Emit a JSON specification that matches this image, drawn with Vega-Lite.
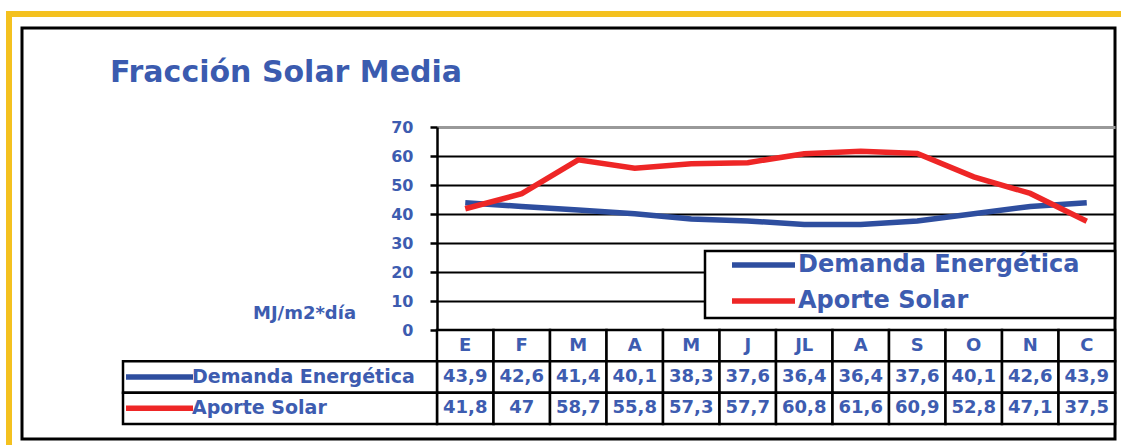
{
  "$schema": "https://vega.github.io/schema/vega-lite/v6.json",
  "width": 1093,
  "height": 411,
  "autosize": {"type": "none"},
  "padding": {"left": 22, "top": 28, "right": 6, "bottom": 6},
  "background": "white",
  "config": {
    "view": {"stroke": "#000000", "strokeWidth": 3},
    "font": "DejaVu Sans",
    "locale": {"number": {"decimal": ",", "thousands": ".", "grouping": [3], "currency": ["", " €"]}}
  },
  "title": {
    "text": "Fracción Solar Media",
    "anchor": "start",
    "frame": "group",
    "orient": "top",
    "baseline": "middle",
    "offset": 0,
    "dx": 88,
    "dy": 92,
    "font": "DejaVu Sans",
    "fontSize": 30,
    "fontWeight": "bold",
    "color": "#3B5BAF"
  },
  "data": {
    "values": [
      {"mes": "Ene", "abrev": "E", "serie": "Demanda Energética", "valor": 43.9},
      {"mes": "Feb", "abrev": "F", "serie": "Demanda Energética", "valor": 42.6},
      {"mes": "Mar", "abrev": "M", "serie": "Demanda Energética", "valor": 41.4},
      {"mes": "Abr", "abrev": "A", "serie": "Demanda Energética", "valor": 40.1},
      {"mes": "May", "abrev": "M", "serie": "Demanda Energética", "valor": 38.3},
      {"mes": "Jun", "abrev": "J", "serie": "Demanda Energética", "valor": 37.6},
      {"mes": "Jul", "abrev": "JL", "serie": "Demanda Energética", "valor": 36.4},
      {"mes": "Ago", "abrev": "A", "serie": "Demanda Energética", "valor": 36.4},
      {"mes": "Sep", "abrev": "S", "serie": "Demanda Energética", "valor": 37.6},
      {"mes": "Oct", "abrev": "O", "serie": "Demanda Energética", "valor": 40.1},
      {"mes": "Nov", "abrev": "N", "serie": "Demanda Energética", "valor": 42.6},
      {"mes": "Dic", "abrev": "C", "serie": "Demanda Energética", "valor": 43.9},
      {"mes": "Ene", "abrev": "E", "serie": "Aporte Solar", "valor": 41.8},
      {"mes": "Feb", "abrev": "F", "serie": "Aporte Solar", "valor": 47},
      {"mes": "Mar", "abrev": "M", "serie": "Aporte Solar", "valor": 58.7},
      {"mes": "Abr", "abrev": "A", "serie": "Aporte Solar", "valor": 55.8},
      {"mes": "May", "abrev": "M", "serie": "Aporte Solar", "valor": 57.3},
      {"mes": "Jun", "abrev": "J", "serie": "Aporte Solar", "valor": 57.7},
      {"mes": "Jul", "abrev": "JL", "serie": "Aporte Solar", "valor": 60.8},
      {"mes": "Ago", "abrev": "A", "serie": "Aporte Solar", "valor": 61.6},
      {"mes": "Sep", "abrev": "S", "serie": "Aporte Solar", "valor": 60.9},
      {"mes": "Oct", "abrev": "O", "serie": "Aporte Solar", "valor": 52.8},
      {"mes": "Nov", "abrev": "N", "serie": "Aporte Solar", "valor": 47.1},
      {"mes": "Dic", "abrev": "C", "serie": "Aporte Solar", "valor": 37.5}
    ]
  },
  "layer": [
    {
      "transform": [{"filter": "datum.mes === 'Ene' && datum.serie === 'Aporte Solar'"}],
      "mark": {"type": "rect", "fill": "#FFFFFF", "fillOpacity": 0, "stroke": "#F4C11F", "strokeWidth": 6},
      "encoding": {
        "x": {"datum": "marco", "type": "nominal", "scale": {"domain": ["marco"], "range": [-13, 1200], "paddingInner": 0, "paddingOuter": 0}, "axis": null},
        "y": {"datum": "marco", "type": "nominal", "scale": {"domain": ["marco"], "range": [-14, 500], "paddingInner": 0, "paddingOuter": 0}, "axis": null}
      }
    },
    {
      "mark": {"type": "line", "strokeWidth": 5.5},
      "encoding": {
        "x": {
          "field": "mes", "type": "ordinal",
          "scale": {"domain": ["Ene","Feb","Mar","Abr","May","Jun","Jul","Ago","Sep","Oct","Nov","Dic"], "range": [415, 1093], "paddingInner": 0, "paddingOuter": 0},
          "axis": null
        },
        "y": {
          "field": "valor", "type": "quantitative",
          "scale": {"domain": [0, 70], "range": [302, 99], "nice": false, "zero": true},
          "axis": {
            "orient": "left",
            "offset": -415,
            "values": [0, 10, 20, 30, 40, 50, 60, 70],
            "domain": true, "domainColor": "#000000", "domainWidth": 2.5,
            "ticks": true, "tickColor": "#000000", "tickWidth": 2.5, "tickSize": 7,
            "grid": true,
            "gridColor": {"condition": {"test": "datum.value === 70", "value": "#999999"}, "value": "#000000"},
            "gridWidth": {"condition": {"test": "datum.value === 70", "value": 3}, "value": 2},
            "labelFont": "DejaVu Sans", "labelFontSize": 16, "labelFontWeight": "bold", "labelColor": "#3D5CB0", "labelPadding": 17,
            "title": "MJ/m2*día", "titleAngle": 0, "titleX": -133, "titleY": 285,
            "titleAlign": "center", "titleBaseline": "middle",
            "titleFont": "DejaVu Sans", "titleFontSize": 18, "titleFontWeight": "bold", "titleColor": "#3D5CB0"
          }
        },
        "color": {
          "field": "serie", "type": "nominal",
          "scale": {"domain": ["Demanda Energética", "Aporte Solar"], "range": ["#2E4E9F", "#EE2626"]},
          "legend": null
        },
        "order": {"value": null}
      }
    },
    {
      "layer": [
        {
          "layer": [
            {
              "transform": [{"filter": "datum.serie === 'Demanda Energética'"}],
              "mark": {"type": "rect", "fill": "#FFFFFF", "stroke": "#000000", "strokeWidth": 2.5},
              "encoding": {
                "x": {"field": "mes", "type": "ordinal", "scale": {"domain": ["Ene","Feb","Mar","Abr","May","Jun","Jul","Ago","Sep","Oct","Nov","Dic"], "range": [415, 1093], "paddingInner": 0, "paddingOuter": 0}, "axis": null},
                "y": {"datum": "hdr", "type": "nominal", "scale": {"domain": ["hdr", "Demanda Energética", "Aporte Solar"], "range": [302, 396], "paddingInner": 0, "paddingOuter": 0}, "axis": null}
              }
            },
            {
              "transform": [{"filter": "datum.serie === 'Demanda Energética'"}],
              "mark": {"type": "text", "font": "DejaVu Sans", "fontSize": 18, "fontWeight": "bold", "color": "#3D5CB0", "align": "center", "baseline": "middle"},
              "encoding": {
                "x": {"field": "mes", "type": "ordinal", "axis": null},
                "y": {"datum": "hdr", "type": "nominal", "axis": null},
                "text": {"field": "abrev"}
              }
            },
            {
              "mark": {"type": "rect", "fill": "#FFFFFF", "stroke": "#000000", "strokeWidth": 2.5},
              "encoding": {
                "x": {"field": "mes", "type": "ordinal", "axis": null},
                "y": {"field": "serie", "type": "nominal", "axis": null}
              }
            },
            {
              "mark": {"type": "text", "font": "DejaVu Sans", "fontSize": 18, "fontWeight": "bold", "color": "#3D5CB0", "align": "center", "baseline": "middle"},
              "encoding": {
                "x": {"field": "mes", "type": "ordinal", "axis": null},
                "y": {"field": "serie", "type": "nominal", "axis": null},
                "text": {"field": "valor", "type": "quantitative", "format": ".1~f"}
              }
            }
          ]
        },
        {
          "transform": [{"filter": "datum.mes === 'Ene'"}],
          "layer": [
            {
              "mark": {"type": "rect", "fill": "#FFFFFF", "stroke": "#000000", "strokeWidth": 2.5},
              "encoding": {
                "x": {"datum": "lbl", "type": "nominal", "scale": {"domain": ["lbl"], "range": [101, 415], "paddingInner": 0, "paddingOuter": 0}, "axis": null},
                "y": {"field": "serie", "type": "nominal", "axis": null}
              }
            },
            {
              "mark": {"type": "point", "shape": "stroke", "size": 4489, "strokeWidth": 5.5, "filled": false, "opacity": 1, "xOffset": -120.5},
              "encoding": {
                "x": {"datum": "lbl", "type": "nominal", "axis": null},
                "y": {"field": "serie", "type": "nominal", "axis": null},
                "stroke": {"field": "serie", "type": "nominal", "scale": {"domain": ["Demanda Energética", "Aporte Solar"], "range": ["#2E4E9F", "#EE2626"]}, "legend": null}
              }
            },
            {
              "mark": {"type": "text", "font": "DejaVu Sans", "fontSize": 19, "fontWeight": "bold", "color": "#3D5CB0", "align": "left", "baseline": "middle", "dx": -88},
              "encoding": {
                "x": {"datum": "lbl", "type": "nominal", "axis": null},
                "y": {"field": "serie", "type": "nominal", "axis": null},
                "text": {"field": "serie"}
              }
            }
          ]
        }
      ],
      "resolve": {"scale": {"x": "independent"}}
    },
    {
      "transform": [{"filter": "datum.mes === 'Ene'"}],
      "layer": [
        {
          "transform": [{"filter": "datum.serie === 'Demanda Energética'"}],
          "mark": {"type": "rect", "fill": "#FFFFFF", "stroke": "#000000", "strokeWidth": 2.5},
          "encoding": {
            "x": {"datum": "ley", "type": "nominal", "scale": {"domain": ["ley"], "range": [683, 1093], "paddingInner": 0, "paddingOuter": 0}, "axis": null},
            "y": {"datum": "ley", "type": "nominal", "scale": {"domain": ["ley"], "range": [223, 290], "paddingInner": 0, "paddingOuter": 0}, "axis": null}
          }
        },
        {
          "layer": [
            {
              "mark": {"type": "point", "shape": "stroke", "size": 3969, "strokeWidth": 5.5, "filled": false, "opacity": 1, "xOffset": -146.5},
              "encoding": {
                "x": {"datum": "ley", "type": "nominal", "axis": null},
                "y": {"field": "serie", "type": "nominal", "scale": {"domain": ["Demanda Energética", "Aporte Solar"], "range": [219, 291], "paddingInner": 0, "paddingOuter": 0}, "axis": null},
                "stroke": {"field": "serie", "type": "nominal", "scale": {"domain": ["Demanda Energética", "Aporte Solar"], "range": ["#2E4E9F", "#EE2626"]}, "legend": null}
              }
            },
            {
              "mark": {"type": "text", "font": "DejaVu Sans", "fontSize": 24, "fontWeight": "bold", "color": "#3D5CB0", "align": "left", "baseline": "middle", "dx": -112},
              "encoding": {
                "x": {"datum": "ley", "type": "nominal", "axis": null},
                "y": {"field": "serie", "type": "nominal", "axis": null},
                "text": {"field": "serie"}
              }
            }
          ]
        }
      ],
      "resolve": {"scale": {"y": "independent"}}
    }
  ],
  "resolve": {"scale": {"x": "independent", "y": "independent"}}
}
